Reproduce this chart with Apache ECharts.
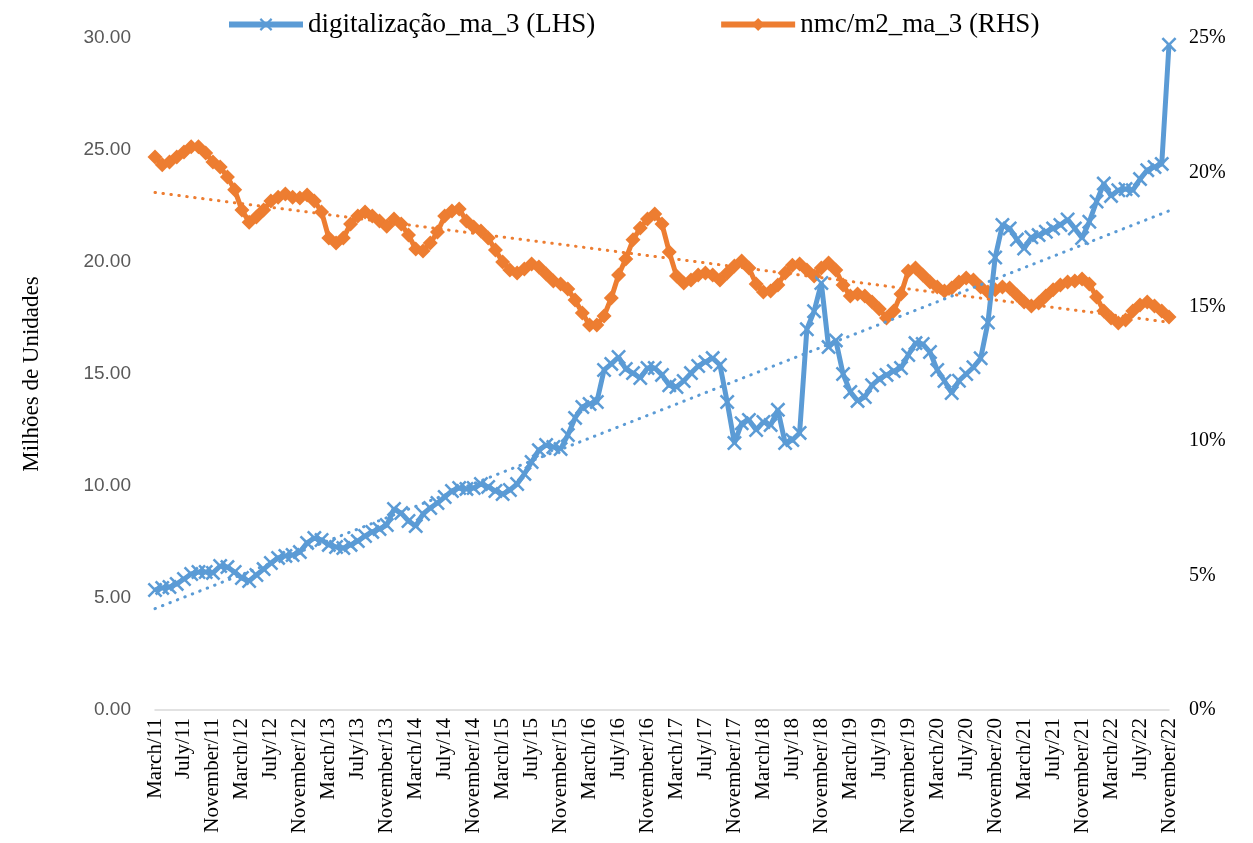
<!DOCTYPE html>
<html>
<head>
<meta charset="utf-8">
<script src="https://cdn.jsdelivr.net/npm/echarts@6/dist/echarts.min.js"></script>
<style>
  html, body { margin: 0; padding: 0; background: #fff; }
  #chart { width: 1253px; height: 843px; }
</style>
</head>
<body>
<div id="chart"></div>
<script>
// month names used to build the category labels (March/11 ... November/22)
var monthNames = ['January', 'February', 'March', 'April', 'May', 'June',
	'July', 'August', 'September', 'October', 'November', 'December'];
var firstMonth = 2, firstYear = 2011, pointCount = 141;

// digitalização_ma_3 (LHS), millions
var digital = [
	5.36, 5.45, 5.49, 5.63, 5.85, 6.07, 6.16, 6.16, 6.12, 6.43,
	6.38, 6.16, 5.89, 5.76, 6.03, 6.29, 6.56, 6.79, 6.88, 6.92,
	7.05, 7.46, 7.68, 7.59, 7.37, 7.28, 7.23, 7.37, 7.54, 7.77,
	7.95, 8.08, 8.26, 8.97, 8.79, 8.44, 8.21, 8.75, 9.02, 9.24,
	9.51, 9.78, 9.91, 9.87, 9.91, 10.09, 9.96, 9.78, 9.64, 9.82,
	10.09, 10.54, 11.07, 11.6, 11.83, 11.74, 11.65, 12.28, 13.04, 13.53,
	13.66, 13.75, 15.18, 15.45, 15.76, 15.22, 15.04, 14.82, 15.27, 15.27,
	14.96, 14.5, 14.42, 14.69, 15.04, 15.36, 15.54, 15.71, 15.4, 13.75,
	11.92, 12.8, 12.95, 12.5, 12.86, 12.72, 13.4, 11.92, 12.05, 12.37,
	17.0, 17.8, 19.06, 16.2, 16.5, 15.0, 14.2, 13.8, 13.97, 14.5,
	14.78, 14.96, 15.13, 15.27, 15.85, 16.38, 16.34, 15.98, 15.18, 14.69,
	14.15, 14.7, 15.0, 15.3, 15.7, 17.3, 20.2, 21.65, 21.5, 21.0,
	20.6, 21.1, 21.2, 21.35, 21.5, 21.65, 21.9, 21.5, 21.07, 21.8,
	22.7, 23.5, 22.95, 23.2, 23.26, 23.2, 23.7, 24.1, 24.24, 24.38,
	29.7
];

// nmc/m2_ma_3 (RHS), percent
var nmc = [
	20.57, 20.28, 20.39, 20.57, 20.76, 20.95, 20.95, 20.72, 20.39, 20.2,
	19.83, 19.35, 18.6, 18.15, 18.34, 18.6, 18.94, 19.08, 19.2, 19.08,
	19.05, 19.16, 18.94, 18.53, 17.56, 17.37, 17.56, 18.08, 18.38, 18.53,
	18.38, 18.19, 18.0, 18.27, 18.08, 17.67, 17.15, 17.08, 17.37, 17.78,
	18.38, 18.56, 18.64, 18.19, 17.97, 17.82, 17.56, 17.11, 16.67, 16.37,
	16.26, 16.41, 16.59, 16.48, 16.22, 15.96, 15.85, 15.66, 15.25, 14.77,
	14.32, 14.32, 14.66, 15.33, 16.18, 16.78, 17.49, 17.93, 18.27, 18.45,
	18.08, 17.04, 16.15, 15.89, 16.0, 16.18, 16.26, 16.18, 16.0, 16.26,
	16.52, 16.7, 16.44, 15.85, 15.55, 15.59, 15.81, 16.26, 16.55, 16.59,
	16.37, 16.15, 16.44, 16.63, 16.37, 15.81, 15.4, 15.48, 15.4, 15.18,
	14.92, 14.58, 14.84, 15.48, 16.33, 16.44, 16.18, 15.92, 15.74, 15.59,
	15.7, 15.92, 16.07, 16.0, 15.74, 15.55, 15.63, 15.74, 15.7, 15.44,
	15.18, 15.03, 15.14, 15.4, 15.63, 15.81, 15.92, 15.96, 16.03, 15.85,
	15.36, 14.84, 14.58, 14.4, 14.51, 14.84, 15.07, 15.18, 15.03, 14.84,
	14.62
];

var leftTicks = { min: 0, max: 30, interval: 5 };
var rightTicks = { min: 0, max: 25, interval: 5 };

var categories = [];
for (var i = 0; i < pointCount; i++) {
	var m = (firstMonth + i) % 12;
	var y = firstYear + Math.floor((firstMonth + i) / 12);
	categories.push(monthNames[m] + '/' + String(y).slice(2));
}

// linear trendline, same as Excel's
function trend(values) {
	var n = values.length, sx = 0, sy = 0, sxy = 0, sxx = 0;
	for (var k = 0; k < n; k++) {
		sx += k; sy += values[k]; sxy += k * values[k]; sxx += k * k;
	}
	var b = (n * sxy - sx * sy) / (n * sxx - sx * sx);
	var a = (sy - b * sx) / n;
	var out = [];
	for (var k = 0; k < n; k++) out.push(+(a + b * k).toFixed(3));
	return out;
}

var BLUE = '#5B9BD5', ORANGE = '#ED7D31';
var SERIF = 'Liberation Serif';
var xMark = 'path://M1.2,0L5,3.8L8.8,0L10,1.2L6.2,5L10,8.8L8.8,10L5,6.2L1.2,10L0,8.8L3.8,5L0,1.2Z';

var chart = echarts.init(document.getElementById('chart'));
chart.setOption({
	animation: false,
	backgroundColor: '#fff',
	legend: {
		data: ['digitalização_ma_3 (LHS)', 'nmc/m2_ma_3 (RHS)'],
		top: 6,
		left: 221,
		itemWidth: 74,
		itemHeight: 16,
		itemGap: 123,
		lineStyle: { width: 6 },
		textStyle: { fontFamily: SERIF, fontSize: 27, color: '#000' }
	},
	grid: { left: 155, right: 84, top: 38, bottom: 133 },
	xAxis: {
		type: 'category',
		boundaryGap: false,
		data: categories,
		axisLine: { lineStyle: { color: '#d9d9d9', width: 1.5 } },
		axisTick: { show: false },
		axisLabel: {
			interval: 3,
			rotate: 90,
			margin: 8,
			fontFamily: SERIF,
			fontSize: 21,
			color: '#000'
		},
		splitLine: { show: false }
	},
	yAxis: [{
		type: 'value',
		min: leftTicks.min,
		max: leftTicks.max,
		interval: leftTicks.interval,
		name: 'Milhões de Unidades',
		nameLocation: 'middle',
		nameGap: 112,
		nameTextStyle: { fontFamily: SERIF, fontSize: 23, color: '#000' },
		axisLine: { show: false },
		axisTick: { show: false },
		splitLine: { show: false },
		axisLabel: {
			margin: 24,
			fontFamily: 'Liberation Sans',
			fontSize: 19,
			color: '#595959',
			formatter: function(v) { return v.toFixed(2); }
		}
	}, {
		type: 'value',
		position: 'right',
		min: rightTicks.min,
		max: rightTicks.max,
		interval: rightTicks.interval,
		axisLine: { show: false },
		axisTick: { show: false },
		splitLine: { show: false },
		axisLabel: {
			margin: 20,
			fontFamily: SERIF,
			fontSize: 20,
			color: '#000',
			formatter: '{value}%'
		}
	}],
	series: [{
		name: 'nmc/m2_ma_3 (RHS)',
		type: 'line',
		yAxisIndex: 1,
		data: nmc,
		smooth: false,
		showAllSymbol: true,
		symbol: 'diamond',
		symbolSize: 15,
		z: 2,
		lineStyle: { color: ORANGE, width: 5 },
		itemStyle: { color: ORANGE }
	}, {
		name: 'digitalização_ma_3 (LHS)',
		type: 'line',
		yAxisIndex: 0,
		data: digital,
		smooth: false,
		showAllSymbol: true,
		symbol: xMark,
		symbolSize: 15,
		z: 3,
		lineStyle: { color: BLUE, width: 5 },
		itemStyle: { color: BLUE }
	}, {
		name: 'trend digital',
		type: 'line',
		yAxisIndex: 0,
		data: trend(digital),
		smooth: false,
		symbol: 'none',
		z: 4,
		lineStyle: { color: BLUE, width: 3, type: [0.5, 7.5], cap: 'round' }
	}, {
		name: 'trend nmc',
		type: 'line',
		yAxisIndex: 1,
		data: trend(nmc),
		smooth: false,
		symbol: 'none',
		z: 4,
		lineStyle: { color: ORANGE, width: 3, type: [0.5, 7.5], cap: 'round' }
	}]
});
</script>
</body>
</html>
